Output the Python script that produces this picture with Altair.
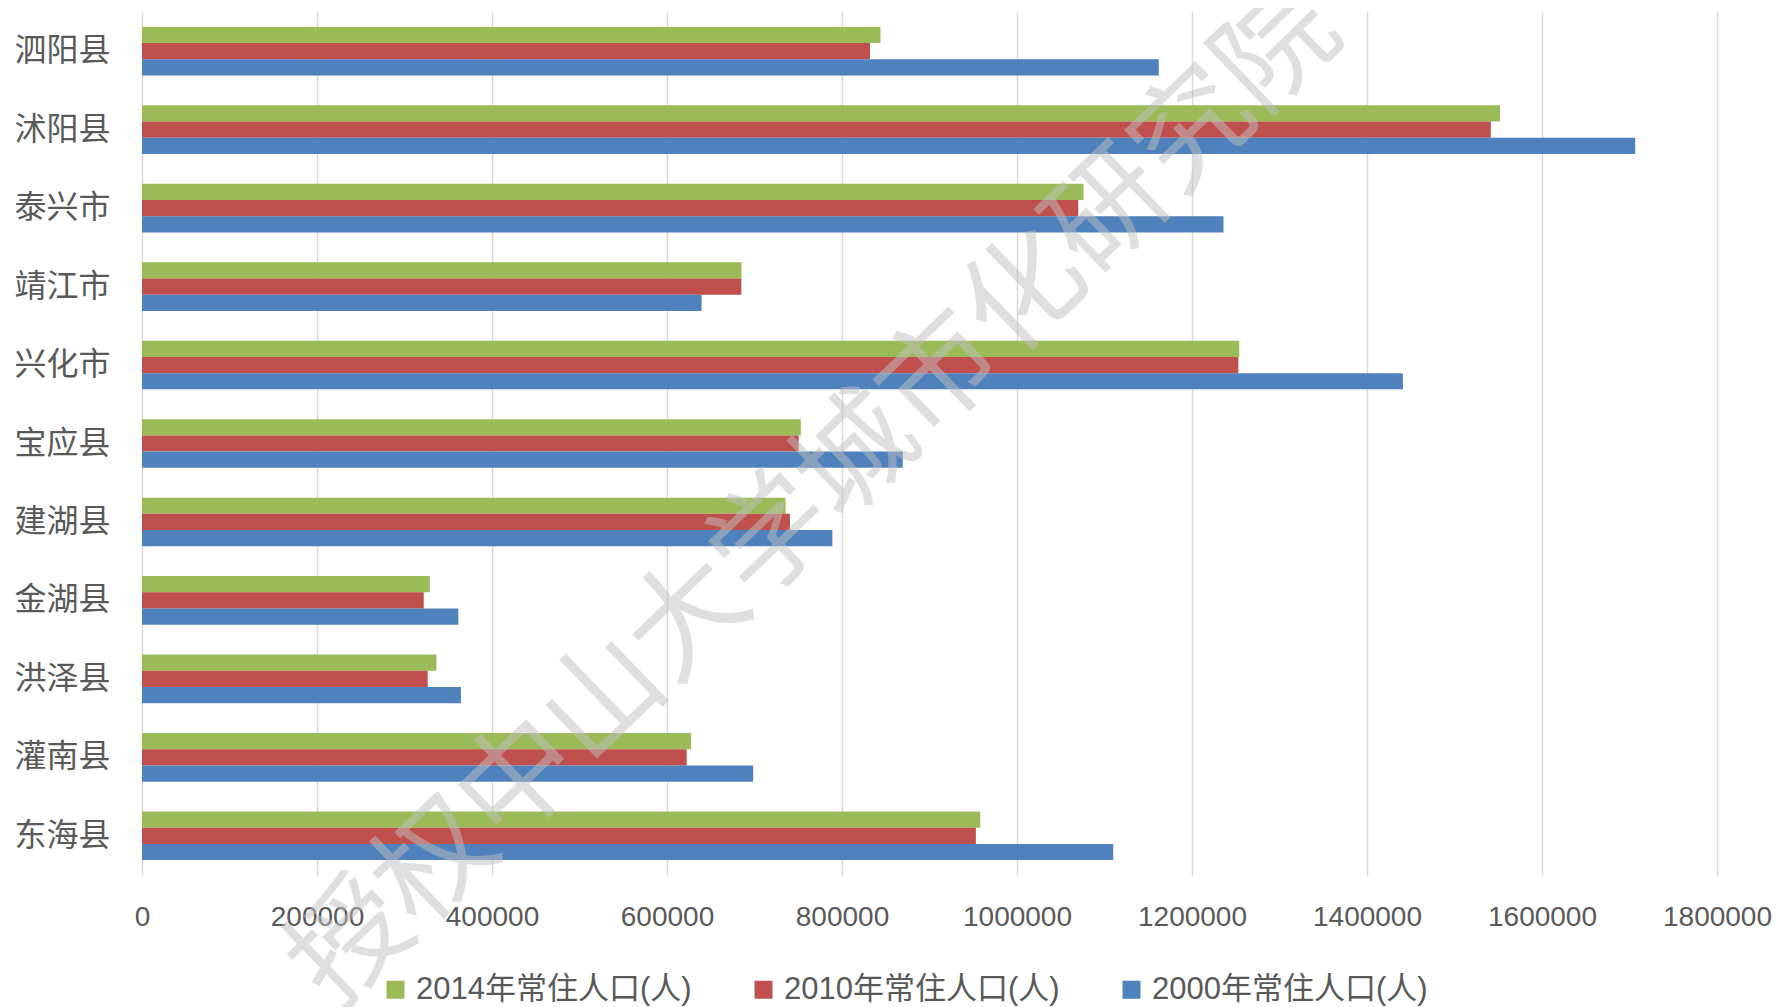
import altair as alt
import pandas as pd

categories = ["泗阳县", "沭阳县", "泰兴市", "靖江市", "兴化市", "宝应县",
              "建湖县", "金湖县", "洪泽县", "灌南县", "东海县"]
series = ["2014年常住人口(人)", "2010年常住人口(人)", "2000年常住人口(人)"]
colors = ["#9BBB59", "#C0504D", "#4F81BD"]

pop_2014 = [844000, 1552000, 1076000, 685100, 1254000, 753000, 735500, 329000, 336500, 627500, 958000]
pop_2010 = [832000, 1541500, 1070000, 685000, 1253000, 750500, 740500, 322000, 326500, 622500, 953000]
pop_2000 = [1162000, 1706500, 1236000, 639500, 1441000, 869500, 789000, 361500, 364500, 698500, 1110000]

x_ticks = [0, 200000, 400000, 600000, 800000, 1000000, 1200000, 1400000, 1600000, 1800000]
watermark = ["授权中山大学城市化研究院"]

rows = []
for s, vals in zip(series, [pop_2014, pop_2010, pop_2000]):
    for c, v in zip(categories, vals):
        rows.append({"region": c, "series": s, "value": v})
df = pd.DataFrame(rows)

bars = alt.Chart(df).mark_bar().encode(
    y=alt.Y("region:N", sort=categories,
            scale=alt.Scale(paddingInner=0.38, paddingOuter=0.19),
            axis=alt.Axis(title=None, ticks=False, domain=False, grid=False,
                          labelFontSize=32, labelFont="Noto Sans CJK SC",
                          labelColor="#595959", labelPadding=32, labelLimit=300)),
    x=alt.X("value:Q", scale=alt.Scale(domain=[0, 1800000], nice=False),
            axis=alt.Axis(title=None, values=x_ticks, format="d", ticks=False,
                          domain=False, grid=True, gridColor="#d9d9d9", gridWidth=1.5,
                          labelFontSize=28, labelFont="Liberation Sans",
                          labelColor="#595959", labelPadding=28,
                          labelFlush=False, labelOverlap=False)),
    yOffset=alt.YOffset("series:N", scale=alt.Scale(domain=series)),
    color=alt.Color("series:N", scale=alt.Scale(domain=series, range=colors),
                    legend=alt.Legend(title=None, orient="none", legendX=238, legendY=962,
                                      direction="horizontal", symbolType="square",
                                      symbolSize=324, symbolStrokeWidth=0,
                                      labelFontSize=31,
                                      labelFont="Liberation Sans, Noto Sans CJK SC",
                                      labelColor="#595959", labelLimit=400,
                                      columnPadding=56, labelOffset=5, padding=0)),
)

wm = alt.Chart(pd.DataFrame({"t": watermark})).mark_text(
    font="Noto Sans CJK SC", fontSize=117, angle=316, color="#c0c0c0",
    opacity=0.5, align="center", baseline="middle"
).encode(text="t:N", x=alt.value(674), y=alt.value(486))

chart = alt.layer(bars, wm).properties(
    width=1575, height=863,
    autosize=alt.AutoSizeParams(type="none"),
    padding={"left": 134, "top": 4, "right": 55, "bottom": 140},
).configure_view(strokeWidth=0)

chart.save("out.html", embed_options={"renderer": "svg", "actions": False})
